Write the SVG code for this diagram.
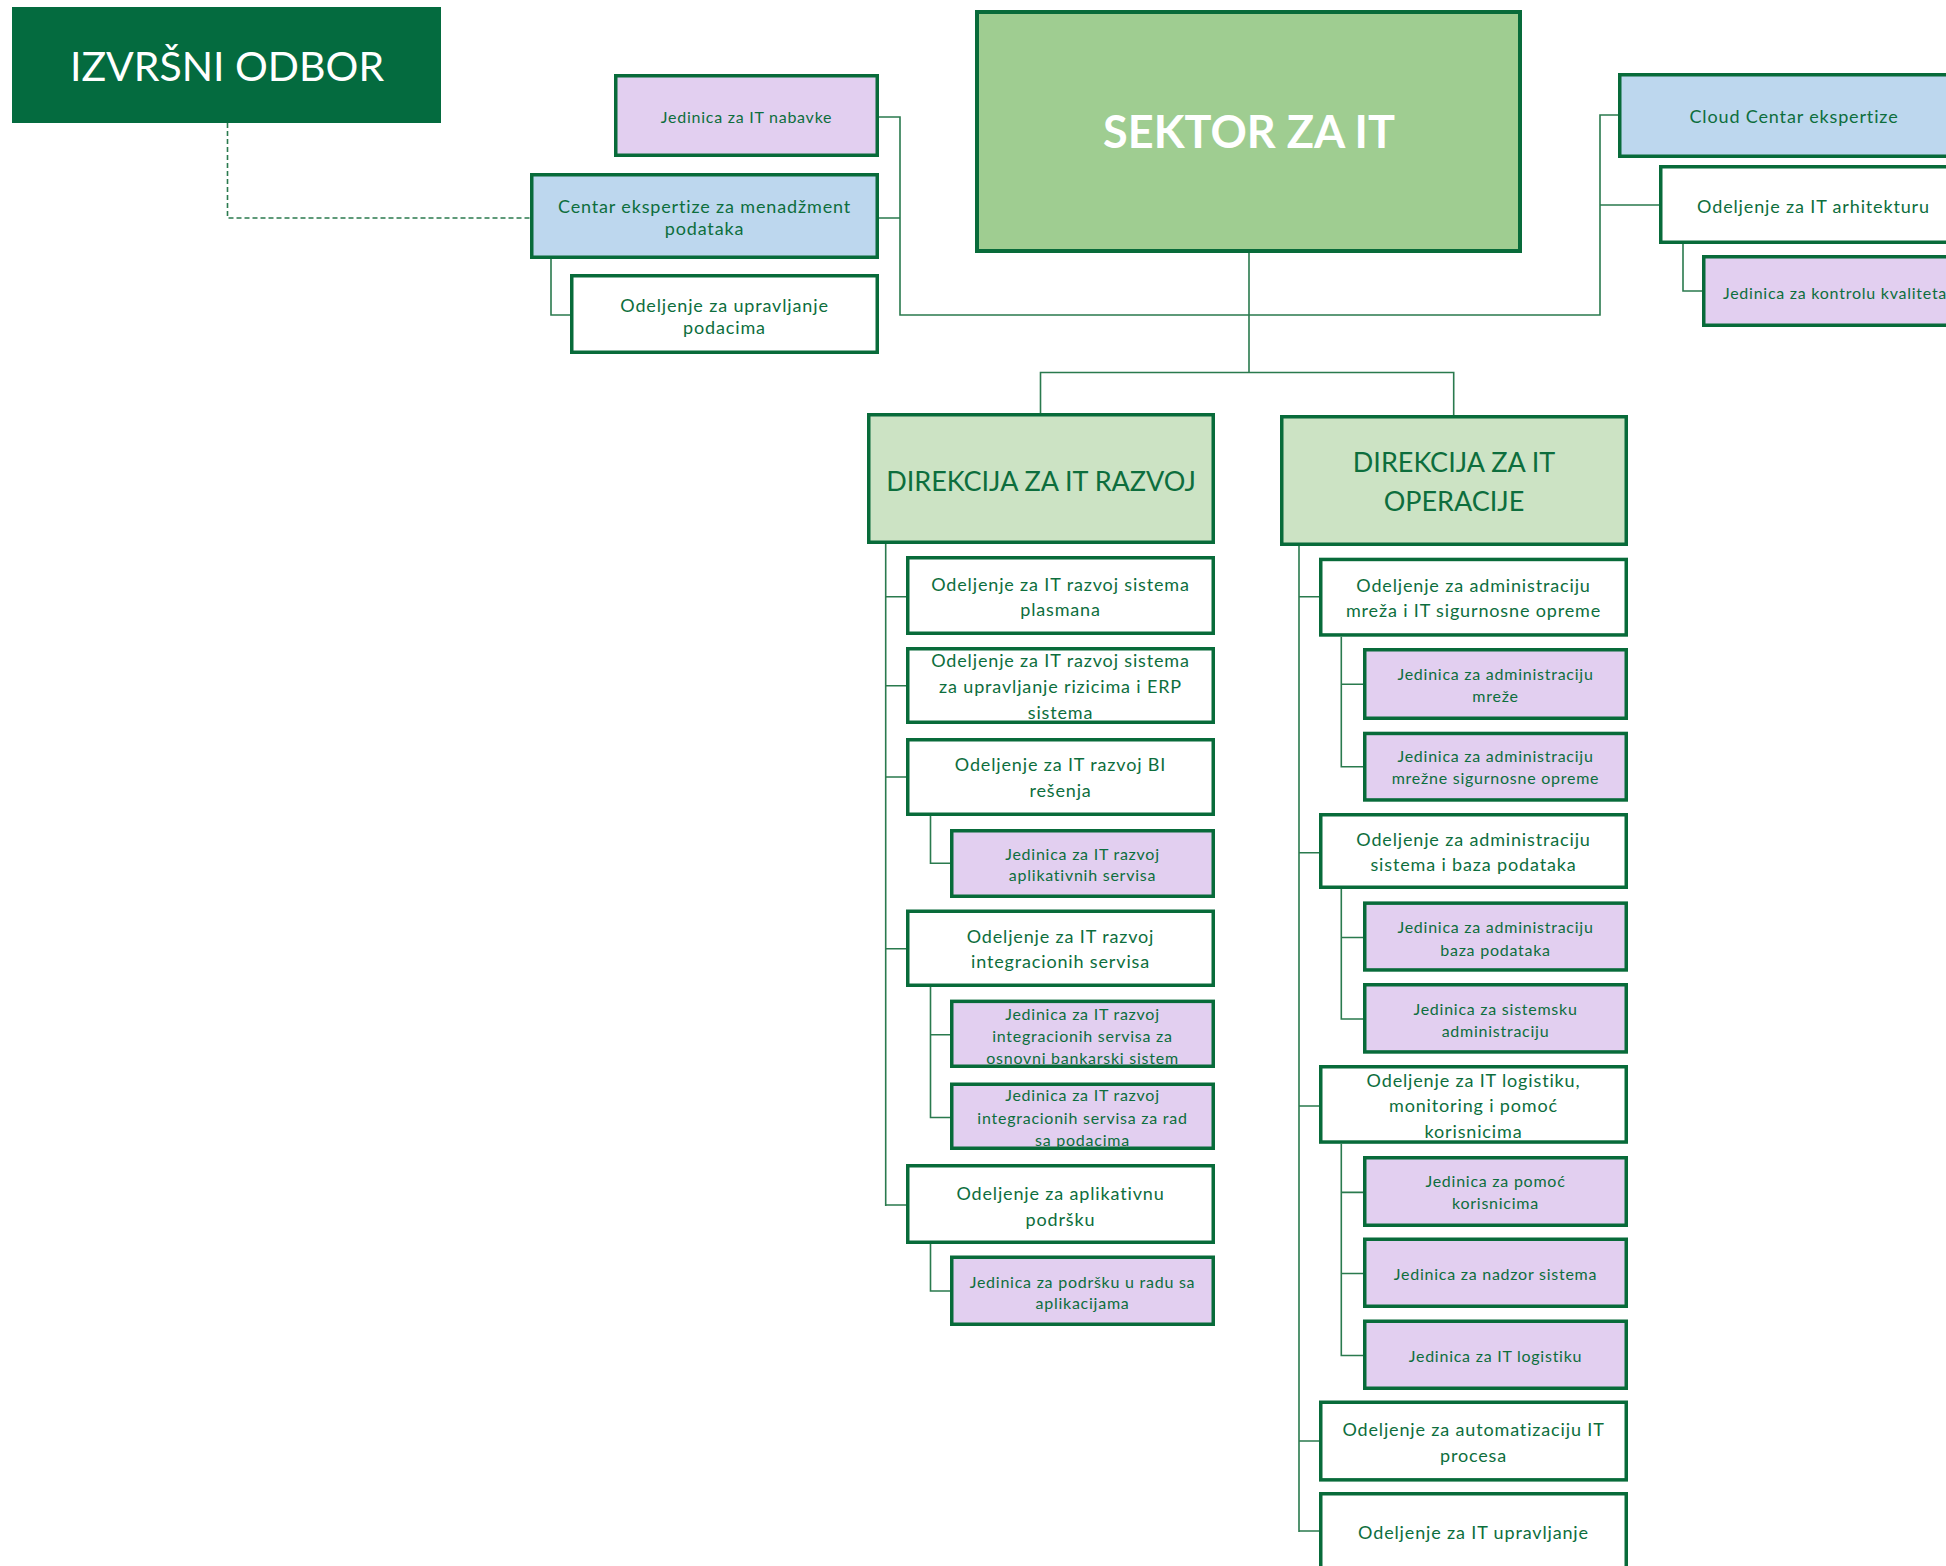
<svg xmlns="http://www.w3.org/2000/svg" width="1946" height="1566" viewBox="0 0 1946 1566">
<style>
.bx{stroke:#086b3a;stroke-width:3.5}
.lav{fill:#e2cff0}
.blu{fill:#bdd7ee}
.wht{fill:#ffffff}
.dir{fill:#cce3c4}
.t{font-family:Lato,"Liberation Sans",sans-serif;fill:#0d6e3d;text-anchor:middle}
.o{font-size:18px;letter-spacing:0.85px}
.j{font-size:16px;letter-spacing:0.75px}
.ln{fill:none;stroke:#2a7a4e;stroke-width:1.6}
</style>
<rect width="1946" height="1566" fill="#ffffff"/>
<g id="connectors">
<path class="ln" d="M227.5,123 V218 H530" stroke-dasharray="5,3"/>
<path class="ln" d="M879,117 H900 V315 H1600 V115 H1618 M879,218 H900 M1600,205 H1659 M1683,244 V291 H1702"/>
<path class="ln" d="M551,259 V315 H570"/>
<path class="ln" d="M1249,253 V372.5 M1040.5,413 V372.5 H1453.7 V415"/>
<path class="ln" d="M885.7,544 V1206 M885.7,596.7 H906 M885.7,685.7 H906 M885.7,777 H906 M885.7,948.7 H906 M885.7,1205 H906"/>
<path class="ln" d="M930.5,816 V863.3 H950 M930.5,987 V1117.5 H950 M930.5,1034.7 H950 M930.5,1244 V1291 H950"/>
<path class="ln" d="M1299,546 V1532 M1299,596.7 H1319 M1299,852.7 H1319 M1299,1106 H1319 M1299,1441 H1319 M1299,1531 H1319"/>
<path class="ln" d="M1341.3,636.7 V766.7 H1363 M1341.3,684.3 H1363 M1341.3,889 V1019 H1363 M1341.3,937.5 H1363 M1341.3,1143.8 V1355.5 H1363 M1341.3,1192.4 H1363 M1341.3,1273.5 H1363"/>
</g>
<g id="izvrsni-odbor">
<rect x="12" y="7" width="429" height="116" fill="#046b3f"/>
<text x="227" y="80.7" font-family="Lato,'Liberation Sans',sans-serif" font-size="41" fill="#ffffff" text-anchor="middle">IZVRŠNI ODBOR</text>
</g>
<g id="jedinica-nabavke">
<rect class="bx lav" x="615.75" y="75.75" width="261.5" height="79.5"/>
<text class="t j" x="746.5" y="122.7">Jedinica za IT nabavke</text>
</g>
<g id="centar-menadzment">
<rect class="bx blu" x="531.75" y="174.75" width="345.5" height="82.5"/>
<text class="t o" x="704.5" y="212.7">Centar ekspertize za menadžment</text>
<text class="t o" x="704.5" y="235">podataka</text>
</g>
<g id="odeljenje-upravljanje-podacima">
<rect class="bx wht" x="571.75" y="275.75" width="305.5" height="76.5"/>
<text class="t o" x="724.5" y="311.7">Odeljenje za upravljanje</text>
<text class="t o" x="724.5" y="334">podacima</text>
</g>
<g id="sektor-za-it">
<rect x="977" y="12" width="543" height="239" fill="#9fcd91" stroke="#086b3a" stroke-width="4"/>
<text x="1249" y="148" font-family="Lato,'Liberation Sans',sans-serif" font-size="45" font-weight="bold" fill="#ffffff" text-anchor="middle">SEKTOR ZA IT</text>
</g>
<g id="cloud-centar">
<rect class="bx blu" x="1619.75" y="74.75" width="346.5" height="81.5"/>
<text class="t o" x="1794" y="122.7">Cloud Centar ekspertize</text>
</g>
<g id="odeljenje-arhitektura">
<rect class="bx wht" x="1660.75" y="166.75" width="305.5" height="75.5"/>
<text class="t o" x="1813.5" y="212.7">Odeljenje za IT arhitekturu</text>
</g>
<g id="jedinica-kontrola">
<rect class="bx lav" x="1703.75" y="256.75" width="262.5" height="68.5"/>
<text class="t j" x="1835" y="298.7">Jedinica za kontrolu kvaliteta</text>
</g>
<g id="direkcija-razvoj">
<rect class="bx dir" x="868.75" y="414.75" width="344.5" height="127.5"/>
<text class="t" x="1041" y="490.7" font-size="27">DIREKCIJA ZA IT RAZVOJ</text>
</g>
<g id="direkcija-operacije">
<rect class="bx dir" x="1281.75" y="416.75" width="344.5" height="127.5"/>
<text class="t" x="1454" y="471.7" font-size="27">DIREKCIJA ZA IT</text>
<text class="t" x="1454" y="510.7" font-size="27">OPERACIJE</text>
</g>
<g id="odeljenje-plasmana">
<rect class="bx wht" x="907.75" y="557.75" width="305.5" height="75.5"/>
<text class="t o" x="1060.5" y="590.7">Odeljenje za IT razvoj sistema</text>
<text class="t o" x="1060.5" y="615.5">plasmana</text>
</g>
<g id="odeljenje-rizici-erp">
<rect class="bx wht" x="907.75" y="648.75" width="305.5" height="73.5"/>
<text class="t o" x="1060.5" y="667">Odeljenje za IT razvoj sistema</text>
<text class="t o" x="1060.5" y="693">za upravljanje rizicima i ERP</text>
<text class="t o" x="1060.5" y="718.5">sistema</text>
</g>
<g id="odeljenje-bi">
<rect class="bx wht" x="907.75" y="739.75" width="305.5" height="74.5"/>
<text class="t o" x="1060.5" y="770.7">Odeljenje za IT razvoj BI</text>
<text class="t o" x="1060.5" y="796.7">rešenja</text>
</g>
<g id="jedinica-aplikativni-servisi">
<rect class="bx lav" x="951.75" y="830.75" width="261.5" height="65.5"/>
<text class="t j" x="1082.5" y="860">Jedinica za IT razvoj</text>
<text class="t j" x="1082.5" y="881.2">aplikativnih servisa</text>
</g>
<g id="odeljenje-integracioni">
<rect class="bx wht" x="907.75" y="911.25" width="305.5" height="74"/>
<text class="t o" x="1060.5" y="943.3">Odeljenje za IT razvoj</text>
<text class="t o" x="1060.5" y="968">integracionih servisa</text>
</g>
<g id="jedinica-bankarski">
<rect class="bx lav" x="951.75" y="1001.35" width="261.5" height="64.9"/>
<text class="t j" x="1082.5" y="1019.9">Jedinica za IT razvoj</text>
<text class="t j" x="1082.5" y="1041.5">integracionih servisa za</text>
<text class="t j" x="1082.5" y="1063.6">osnovni bankarski sistem</text>
</g>
<g id="jedinica-rad-podaci">
<rect class="bx lav" x="951.75" y="1084.25" width="261.5" height="64"/>
<text class="t j" x="1082.5" y="1101">Jedinica za IT razvoj</text>
<text class="t j" x="1082.5" y="1123.5">integracionih servisa za rad</text>
<text class="t j" x="1082.5" y="1146">sa podacima</text>
</g>
<g id="odeljenje-podrska">
<rect class="bx wht" x="907.75" y="1165.75" width="305.5" height="76.5"/>
<text class="t o" x="1060.5" y="1200">Odeljenje za aplikativnu</text>
<text class="t o" x="1060.5" y="1225.6">podršku</text>
</g>
<g id="jedinica-podrska">
<rect class="bx lav" x="951.75" y="1257.25" width="261.5" height="67"/>
<text class="t j" x="1082.5" y="1287.7">Jedinica za podršku u radu sa</text>
<text class="t j" x="1082.5" y="1309.3">aplikacijama</text>
</g>
<g id="odeljenje-mreze">
<rect class="bx wht" x="1320.75" y="559.45" width="305.5" height="75.5"/>
<text class="t o" x="1473.5" y="591.7">Odeljenje za administraciju</text>
<text class="t o" x="1473.5" y="616.7">mreža i IT sigurnosne opreme</text>
</g>
<g id="jedinica-mreze">
<rect class="bx lav" x="1364.75" y="649.75" width="261.5" height="68.5"/>
<text class="t j" x="1495.5" y="680">Jedinica za administraciju</text>
<text class="t j" x="1495.5" y="701.7">mreže</text>
</g>
<g id="jedinica-sigurnosna-oprema">
<rect class="bx lav" x="1364.75" y="733.45" width="261.5" height="66.5"/>
<text class="t j" x="1495.5" y="761.7">Jedinica za administraciju</text>
<text class="t j" x="1495.5" y="784">mrežne sigurnosne opreme</text>
</g>
<g id="odeljenje-sistemi-baze">
<rect class="bx wht" x="1320.75" y="814.75" width="305.5" height="72.5"/>
<text class="t o" x="1473.5" y="846">Odeljenje za administraciju</text>
<text class="t o" x="1473.5" y="871">sistema i baza podataka</text>
</g>
<g id="jedinica-baze">
<rect class="bx lav" x="1364.75" y="903.15" width="261.5" height="66.8"/>
<text class="t j" x="1495.5" y="932.9">Jedinica za administraciju</text>
<text class="t j" x="1495.5" y="955.5">baza podataka</text>
</g>
<g id="jedinica-sistemska">
<rect class="bx lav" x="1364.75" y="984.75" width="261.5" height="67.2"/>
<text class="t j" x="1495.5" y="1015.3">Jedinica za sistemsku</text>
<text class="t j" x="1495.5" y="1036.5">administraciju</text>
</g>
<g id="odeljenje-logistika">
<rect class="bx wht" x="1320.75" y="1066.75" width="305.5" height="75.3"/>
<text class="t o" x="1473.5" y="1086.5">Odeljenje za IT logistiku,</text>
<text class="t o" x="1473.5" y="1112">monitoring i pomoć</text>
<text class="t o" x="1473.5" y="1137.8">korisnicima</text>
</g>
<g id="jedinica-pomoc">
<rect class="bx lav" x="1364.75" y="1157.75" width="261.5" height="67.5"/>
<text class="t j" x="1495.5" y="1187.3">Jedinica za pomoć</text>
<text class="t j" x="1495.5" y="1209.4">korisnicima</text>
</g>
<g id="jedinica-nadzor">
<rect class="bx lav" x="1364.75" y="1239.25" width="261.5" height="67"/>
<text class="t j" x="1495.5" y="1279.6">Jedinica za nadzor sistema</text>
</g>
<g id="jedinica-it-logistika">
<rect class="bx lav" x="1364.75" y="1321.25" width="261.5" height="67"/>
<text class="t j" x="1495.5" y="1362">Jedinica za IT logistiku</text>
</g>
<g id="odeljenje-automatizacija">
<rect class="bx wht" x="1320.75" y="1402.25" width="305.5" height="77.6"/>
<text class="t o" x="1473.5" y="1436.3">Odeljenje za automatizaciju IT</text>
<text class="t o" x="1473.5" y="1462">procesa</text>
</g>
<g id="odeljenje-it-upravljanje">
<rect class="bx wht" x="1320.75" y="1493.75" width="305.5" height="100"/>
<text class="t o" x="1473.5" y="1539">Odeljenje za IT upravljanje</text>
</g>
</svg>
